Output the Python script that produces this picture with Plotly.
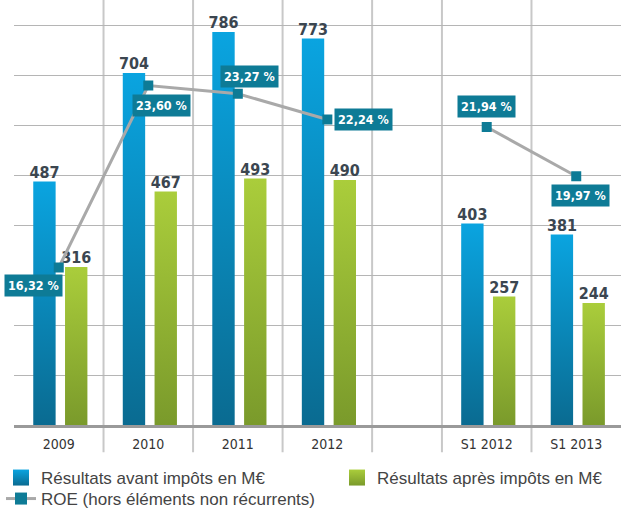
import plotly.graph_objects as go

categories = ["2009", "2010", "2011", "2012", "S1 2012", "S1 2013"]
avant = [487, 704, 786, 773, 403, 381]
apres = [316, 467, 493, 490, 257, 244]
roe = [16.32, 23.60, 23.27, 22.24, 21.94, 19.97]
roe_text = ["16,32 %", "23,60 %", "23,27 %", "22,24 %", "21,94 %", "19,97 %"]

# layout: annual block then half-year block separated by a gap
GAP = 0.78
pos = [i if i < 4 else i + GAP for i in range(len(categories))]

BLUE_TOP, BLUE_BOT = "#0aa4e0", "#0a6b91"
GREEN_TOP, GREEN_BOT = "#aacd3b", "#7a9a2b"
TEAL = "#0e7b96"
COND = "DejaVu Sans Condensed, DejaVu Sans, sans-serif"
LEG_FONT = dict(family="Liberation Sans, Arial, sans-serif", size=17, color="#444444")
BAR_W = 0.25
SERIES = [(avant, -0.16, BLUE_BOT, BLUE_TOP), (apres, 0.195, GREEN_BOT, GREEN_TOP)]

fig = go.Figure()

# bars with a vertical gradient (one filled rectangle per bar, in data coordinates)
for values, off, bot, top in SERIES:
    for p, v in zip(pos, values):
        xl, xr = p + off - BAR_W / 2, p + off + BAR_W / 2
        fig.add_trace(go.Scatter(x=[xl, xr, xr, xl, xl], y=[0, 0, v, v, 0], mode="lines",
                                 fill="toself", line=dict(width=0),
                                 fillgradient=dict(type="vertical", colorscale=[[0, bot], [1, top]]),
                                 hoverinfo="skip", showlegend=False))
    fig.add_trace(go.Scatter(x=[p + off for p in pos], y=values, mode="text",
                             text=[str(v) for v in values], textposition="top center",
                             textfont=dict(family=COND, size=16, weight="bold", color="#3b4650"),
                             cliponaxis=False, showlegend=False, hoverinfo="skip"))

# ROE line, broken between annual and half-year blocks
lx, ly = [], []
for i, (p, r) in enumerate(zip(pos, roe)):
    if i == 4:
        lx.append((pos[3] + pos[4]) / 2)
        ly.append(None)
    lx.append(p)
    ly.append(r)
fig.add_trace(go.Scatter(x=lx, y=ly, yaxis="y2", mode="lines+markers",
                         line=dict(color="#a9a9a9", width=3),
                         marker=dict(symbol="square", size=10, color=TEAL),
                         connectgaps=False, showlegend=False))

# legend entries
fig.add_trace(go.Scatter(x=[None], y=[None], mode="markers", name="Résultats avant impôts en M€",
                         marker=dict(symbol="square", size=16, color=BLUE_TOP,
                                     gradient=dict(type="vertical", color=BLUE_BOT)),
                         legend="legend"))
fig.add_trace(go.Scatter(x=[None], y=[None], mode="markers", name="Résultats après impôts en M€",
                         marker=dict(symbol="square", size=16, color=GREEN_TOP,
                                     gradient=dict(type="vertical", color=GREEN_BOT)),
                         legend="legend2"))
fig.add_trace(go.Scatter(x=[None], y=[None], mode="lines+markers", name="ROE (hors éléments non récurrents)",
                         line=dict(color="#a9a9a9", width=3),
                         marker=dict(symbol="square", size=12, color=TEAL), legend="legend3"))

# ROE labels
offsets = [(-25, -18), (13, -20), (12, 17), (36, 0), (0, 21), (4, -19)]
for p, r, t, (dx, dy) in zip(pos, roe, roe_text, offsets):
    fig.add_annotation(x=p, y=r, xref="x", yref="y2", text=t, showarrow=False,
                       xshift=dx, yshift=dy, bgcolor=TEAL, borderpad=3,
                       font=dict(family=COND, size=12.5, weight="bold", color="white"))

# category separators
bounds = sorted(set([p - 0.5 for p in pos[1:]] + [p + 0.5 for p in pos[:-1]]))
for b in bounds:
    fig.add_shape(type="line", xref="x", yref="paper", x0=b, x1=b, y0=-0.064, y1=1,
                  line=dict(color="#c8c8c8", width=2), layer="below")

leg_common = dict(orientation="h", xref="container", yref="container",
                  xanchor="left", yanchor="middle", font=LEG_FONT, itemsizing="trace",
                  bgcolor="rgba(0,0,0,0)")
fig.update_layout(
    width=621, height=509,
    margin=dict(l=14, r=0, t=0, b=84),
    paper_bgcolor="white", plot_bgcolor="white",
    font=dict(family="Liberation Sans, Arial, sans-serif", color="#444444"),
    xaxis=dict(range=[-0.5, pos[-1] + 0.5], tickvals=pos, ticktext=categories,
               showgrid=False, zeroline=False, showline=True, linecolor="#9a9a9a", linewidth=3,
               ticks="", tickfont=dict(family=COND, size=14, color="#333333"),
               ticklabelstandoff=4),
    yaxis=dict(range=[0, 850], dtick=100, showgrid=True, gridcolor="#b5b5b5", gridwidth=1.3,
               showticklabels=False, zeroline=False, ticks=""),
    yaxis2=dict(range=[10.02, 27.02], overlaying="y", visible=False),
    legend=dict(x=1 / 621, y=1 - 478 / 509, **leg_common),
    legend2=dict(x=337 / 621, y=1 - 478 / 509, **leg_common),
    legend3=dict(x=1 / 621, y=1 - 499 / 509, **leg_common),
)

fig.write_html("out.html", config={"displayModeBar": False},
               post_script="document.body.style.margin='0';")
